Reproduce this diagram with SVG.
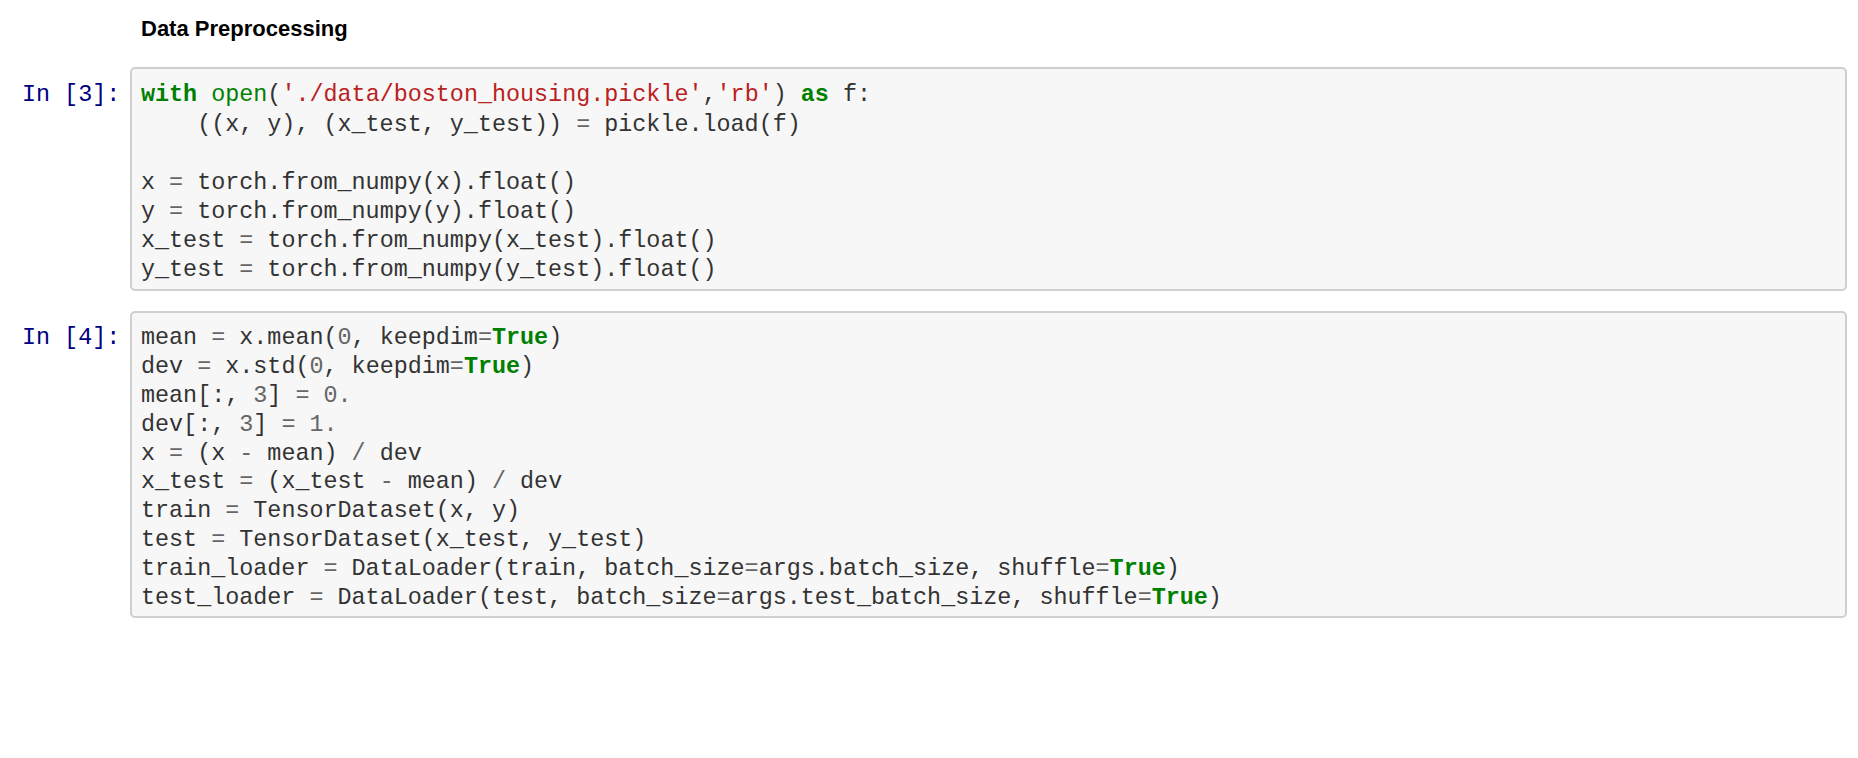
<svg xmlns="http://www.w3.org/2000/svg" width="1858" height="758" viewBox="0 0 1858 758">
<style>
.cell{fill:#f7f7f7;stroke:#cfcfcf;stroke-width:2}
.code{font-family:"Liberation Mono",monospace;font-size:23.4px;fill:#333;white-space:pre}
.p{font-family:"Liberation Mono",monospace;font-size:23.4px;fill:#000080}
.k{fill:#008000;font-weight:bold}
.b{fill:#008000}
.s{fill:#ba2121}
.o{fill:#666}
</style>
<rect width="1858" height="758" fill="#fff"/>
<text x="141" y="36" font-family="Liberation Sans,Arial,sans-serif" font-size="22" font-weight="bold" fill="#000">Data Preprocessing</text>
<g id="cell3">
<rect class="cell" x="131" y="68" width="1715" height="222" rx="4"/>
<text class="p" x="22" y="101">In [3]:</text>
<text class="code" xml:space="preserve"><tspan x="141" y="101"><tspan class="k">with</tspan> <tspan class="b">open</tspan>(<tspan class="s">'./data/boston_housing.pickle'</tspan>,<tspan class="s">'rb'</tspan>) <tspan class="k">as</tspan> f:</tspan><tspan x="141" y="131">    ((x, y), (x_test, y_test)) <tspan class="o">=</tspan> pickle.load(f)</tspan><tspan x="141" y="189">x <tspan class="o">=</tspan> torch.from_numpy(x).float()</tspan><tspan x="141" y="218">y <tspan class="o">=</tspan> torch.from_numpy(y).float()</tspan><tspan x="141" y="247">x_test <tspan class="o">=</tspan> torch.from_numpy(x_test).float()</tspan><tspan x="141" y="276">y_test <tspan class="o">=</tspan> torch.from_numpy(y_test).float()</tspan></text>
</g>
<g id="cell4">
<rect class="cell" x="131" y="312" width="1715" height="305" rx="4"/>
<text class="p" x="22" y="344">In [4]:</text>
<text class="code" xml:space="preserve"><tspan x="141" y="344">mean <tspan class="o">=</tspan> x.mean(<tspan class="o">0</tspan>, keepdim<tspan class="o">=</tspan><tspan class="k">True</tspan>)</tspan><tspan x="141" y="373">dev <tspan class="o">=</tspan> x.std(<tspan class="o">0</tspan>, keepdim<tspan class="o">=</tspan><tspan class="k">True</tspan>)</tspan><tspan x="141" y="402">mean[:, <tspan class="o">3</tspan>] <tspan class="o">=</tspan> <tspan class="o">0.</tspan></tspan><tspan x="141" y="431">dev[:, <tspan class="o">3</tspan>] <tspan class="o">=</tspan> <tspan class="o">1.</tspan></tspan><tspan x="141" y="460">x <tspan class="o">=</tspan> (x <tspan class="o">-</tspan> mean) <tspan class="o">/</tspan> dev</tspan><tspan x="141" y="488">x_test <tspan class="o">=</tspan> (x_test <tspan class="o">-</tspan> mean) <tspan class="o">/</tspan> dev</tspan><tspan x="141" y="517">train <tspan class="o">=</tspan> TensorDataset(x, y)</tspan><tspan x="141" y="546">test <tspan class="o">=</tspan> TensorDataset(x_test, y_test)</tspan><tspan x="141" y="575">train_loader <tspan class="o">=</tspan> DataLoader(train, batch_size<tspan class="o">=</tspan>args.batch_size, shuffle<tspan class="o">=</tspan><tspan class="k">True</tspan>)</tspan><tspan x="141" y="604">test_loader <tspan class="o">=</tspan> DataLoader(test, batch_size<tspan class="o">=</tspan>args.test_batch_size, shuffle<tspan class="o">=</tspan><tspan class="k">True</tspan>)</tspan></text>
</g>
</svg>
